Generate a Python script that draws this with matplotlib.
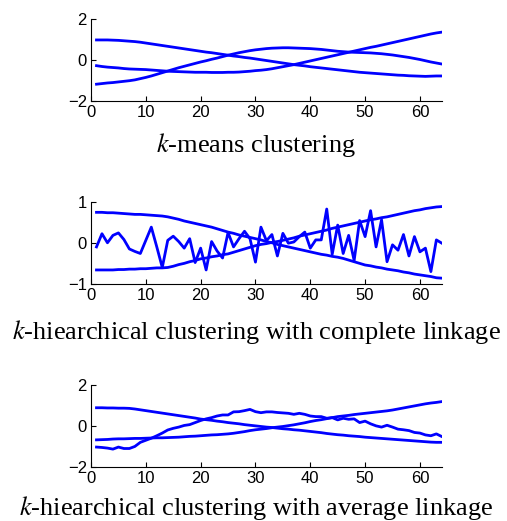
import numpy as np
import matplotlib.pyplot as plt

plt.rcParams['font.family'] = 'Liberation Sans'
plt.rcParams['mathtext.fontset'] = 'stix'

# sample index 1..64
x = np.arange(1, 65)

# k-means clustering
km_a = [0.97, 0.97, 0.97, 0.96, 0.95, 0.93, 0.91, 0.89, 0.86, 0.82, 0.78, 0.74, 0.70, 0.66, 0.62, 0.58,
        0.54, 0.50, 0.46, 0.42, 0.38, 0.35, 0.31, 0.27, 0.23, 0.19, 0.16, 0.12, 0.09, 0.05, 0.01, -0.03,
        -0.07, -0.11, -0.15, -0.19, -0.23, -0.26, -0.29, -0.33, -0.36, -0.39, -0.42, -0.45, -0.48, -0.51, -0.54, -0.57,
        -0.60, -0.62, -0.64, -0.66, -0.68, -0.70, -0.72, -0.74, -0.75, -0.77, -0.78, -0.79, -0.80, -0.79, -0.78, -0.78]
km_b = [-0.28, -0.32, -0.35, -0.37, -0.39, -0.42, -0.44, -0.45, -0.46, -0.47, -0.49, -0.51, -0.53, -0.55, -0.56, -0.57,
        -0.58, -0.59, -0.60, -0.60, -0.60, -0.61, -0.61, -0.61, -0.60, -0.60, -0.59, -0.57, -0.55, -0.52, -0.50, -0.47,
        -0.43, -0.38, -0.33, -0.28, -0.23, -0.17, -0.11, -0.05, 0.01, 0.07, 0.13, 0.19, 0.25, 0.31, 0.37, 0.43,
        0.49, 0.55, 0.61, 0.66, 0.72, 0.78, 0.84, 0.90, 0.96, 1.02, 1.08, 1.14, 1.20, 1.26, 1.31, 1.35]
km_c = [-1.18, -1.15, -1.12, -1.10, -1.07, -1.04, -1.01, -0.97, -0.91, -0.85, -0.78, -0.70, -0.62, -0.54, -0.46, -0.38,
        -0.31, -0.24, -0.17, -0.10, -0.04, 0.03, 0.09, 0.16, 0.23, 0.29, 0.35, 0.40, 0.45, 0.49, 0.52, 0.55,
        0.57, 0.58, 0.59, 0.59, 0.58, 0.57, 0.56, 0.55, 0.53, 0.51, 0.48, 0.45, 0.42, 0.40, 0.38, 0.37,
        0.36, 0.35, 0.34, 0.32, 0.30, 0.27, 0.24, 0.20, 0.16, 0.12, 0.07, 0.02, -0.04, -0.10, -0.15, -0.20]

# hierarchical, complete linkage
hc_a = [0.74, 0.74, 0.73, 0.73, 0.72, 0.71, 0.70, 0.69, 0.69, 0.68, 0.67, 0.66, 0.65, 0.63, 0.60, 0.57,
        0.53, 0.50, 0.47, 0.44, 0.41, 0.38, 0.34, 0.30, 0.26, 0.23, 0.19, 0.16, 0.13, 0.10, 0.07, 0.03,
        0.00, -0.04, -0.07, -0.10, -0.13, -0.16, -0.19, -0.22, -0.25, -0.28, -0.30, -0.33, -0.35, -0.38, -0.42, -0.46,
        -0.50, -0.54, -0.56, -0.59, -0.61, -0.64, -0.66, -0.68, -0.71, -0.73, -0.76, -0.78, -0.80, -0.82, -0.85, -0.86]
hc_b = [-0.66, -0.66, -0.66, -0.66, -0.65, -0.65, -0.64, -0.64, -0.63, -0.63, -0.62, -0.61, -0.61, -0.60, -0.57, -0.53,
        -0.50, -0.46, -0.43, -0.39, -0.37, -0.34, -0.32, -0.29, -0.27, -0.23, -0.19, -0.15, -0.11, -0.07, -0.04, -0.02,
        0.01, 0.03, 0.06, 0.09, 0.12, 0.16, 0.19, 0.22, 0.25, 0.28, 0.31, 0.35, 0.38, 0.41, 0.44, 0.47,
        0.50, 0.53, 0.56, 0.58, 0.61, 0.63, 0.66, 0.69, 0.72, 0.75, 0.78, 0.80, 0.83, 0.85, 0.87, 0.88]
hc_c = [-0.10, 0.22, 0.00, 0.18, 0.24, 0.08, -0.15, -0.21, -0.26, 0.06, 0.38, -0.10, -0.60, 0.06, 0.16, 0.03,
        -0.13, 0.10, -0.48, -0.13, -0.66, 0.03, -0.20, -0.37, 0.25, -0.10, 0.10, 0.28, 0.10, -0.47, 0.38, 0.05,
        0.20, -0.32, 0.23, -0.01, 0.02, 0.15, 0.26, -0.13, 0.07, 0.07, 0.82, -0.28, 0.43, -0.26, 0.18, -0.43,
        0.54, 0.15, 0.78, -0.10, 0.56, -0.46, -0.05, -0.18, 0.20, -0.32, 0.15, -0.22, -0.13, -0.70, 0.07, -0.01]

# hierarchical, average linkage
ha_a = [0.88, 0.88, 0.87, 0.87, 0.86, 0.86, 0.85, 0.82, 0.78, 0.74, 0.70, 0.66, 0.62, 0.58, 0.54, 0.50,
        0.46, 0.42, 0.38, 0.33, 0.30, 0.27, 0.23, 0.20, 0.16, 0.13, 0.10, 0.06, 0.03, 0.00, -0.03, -0.06,
        -0.08, -0.11, -0.14, -0.16, -0.19, -0.21, -0.24, -0.27, -0.30, -0.33, -0.37, -0.40, -0.43, -0.45, -0.48, -0.50,
        -0.52, -0.55, -0.57, -0.59, -0.61, -0.63, -0.65, -0.67, -0.69, -0.71, -0.73, -0.75, -0.77, -0.79, -0.80, -0.80]
ha_b = [-0.68, -0.67, -0.66, -0.64, -0.63, -0.63, -0.62, -0.61, -0.61, -0.60, -0.59, -0.58, -0.58, -0.57, -0.56, -0.55,
        -0.53, -0.51, -0.50, -0.48, -0.46, -0.44, -0.43, -0.41, -0.39, -0.36, -0.32, -0.28, -0.23, -0.19, -0.16, -0.13,
        -0.09, -0.06, -0.03, 0.01, 0.05, 0.10, 0.15, 0.21, 0.26, 0.30, 0.35, 0.40, 0.45, 0.48, 0.51, 0.55,
        0.58, 0.61, 0.64, 0.67, 0.70, 0.73, 0.77, 0.82, 0.87, 0.92, 0.97, 1.02, 1.07, 1.11, 1.14, 1.18]
ha_c = [-1.03, -1.05, -1.08, -1.13, -1.03, -1.10, -1.10, -1.00, -0.80, -0.70, -0.60, -0.48, -0.35, -0.20, -0.12, -0.06,
        0.02, 0.06, 0.16, 0.26, 0.34, 0.40, 0.48, 0.53, 0.53, 0.68, 0.69, 0.74, 0.80, 0.69, 0.64, 0.68,
        0.68, 0.65, 0.63, 0.61, 0.56, 0.61, 0.56, 0.48, 0.45, 0.45, 0.37, 0.40, 0.29, 0.37, 0.32, 0.34,
        0.16, 0.23, 0.10, 0.00, -0.06, 0.03, -0.06, -0.16, -0.19, -0.23, -0.32, -0.35, -0.44, -0.48, -0.39, -0.52]

panels = [
    ([km_a, km_b, km_c], 2, r'$k$-means clustering'),
    ([hc_a, hc_b, hc_c], 1, r'$k$-hiearchical clustering with complete linkage'),
    ([ha_a, ha_b, ha_c], 2, r'$k$-hiearchical clustering with average linkage'),
]
axes_bottoms = [0.806, 0.455, 0.1036]
label_y = [0.721, 0.362, 0.025]

fig = plt.figure(figsize=(5.07, 5.21), dpi=100)

for (series, lim, title), bottom, ly in zip(panels, axes_bottoms, label_y):
    ax = fig.add_axes([0.1795, bottom, 0.692, 0.158])
    for s in series:
        ax.plot(x, s, color='#0000ff', linewidth=2.0)
    ax.set_xlim(0, 64)
    ax.set_ylim(-lim, lim)
    ax.set_xticks([0, 10, 20, 30, 40, 50, 60])
    ax.set_yticks([-lim, 0, lim])
    ax.spines['top'].set_visible(False)
    ax.spines['right'].set_visible(False)
    ax.tick_params(direction='in', length=3.5, labelsize=12, pad=3)
    fig.text(0.505, ly, title, ha='center', va='center',
             family='Liberation Serif', fontsize=19)

plt.savefig('out.png', dpi=100)
